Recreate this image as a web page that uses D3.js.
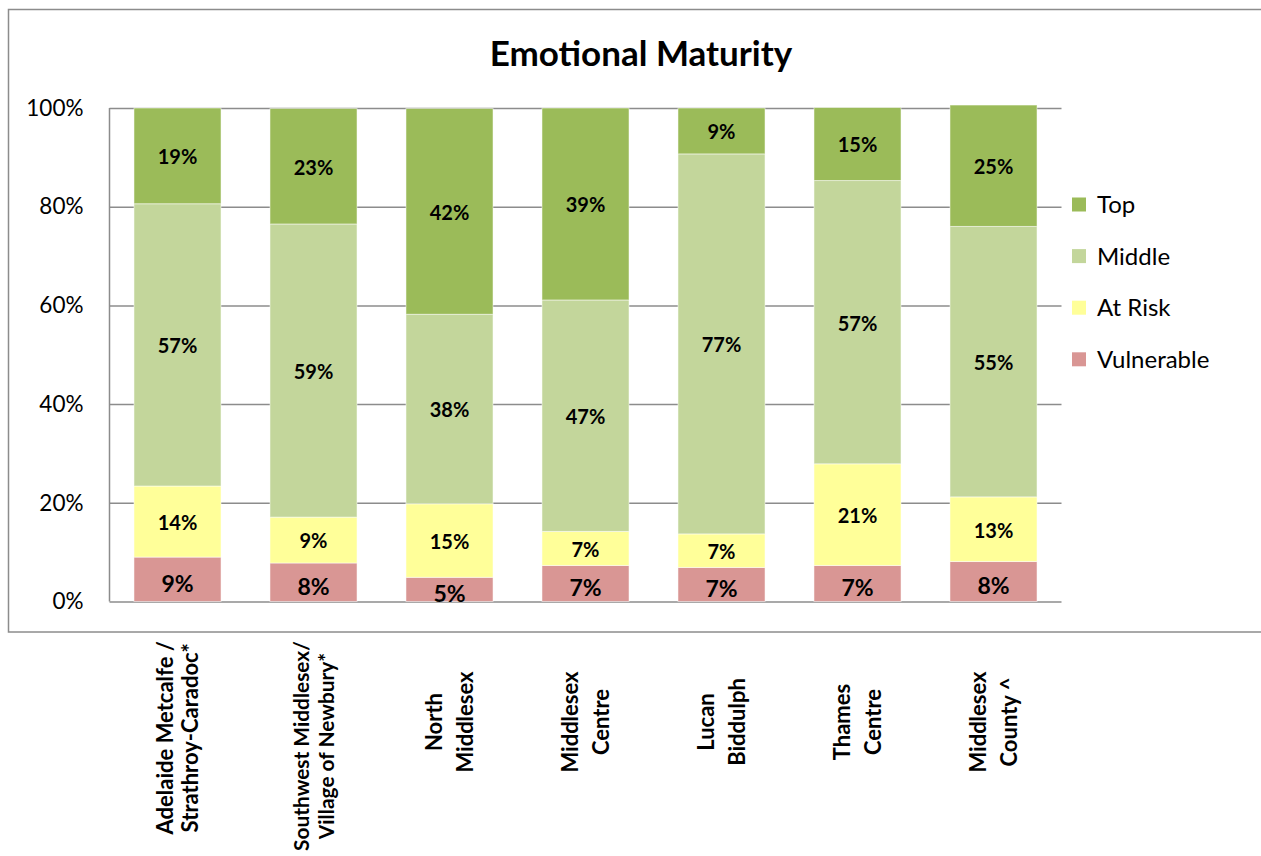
<!DOCTYPE html>
<html>
<head>
<meta charset="utf-8">
<script src="https://cdn.jsdelivr.net/npm/d3@7/dist/d3.min.js"></script>
<style>
  body { margin: 0; background: #fff; }
  svg { display: block; font-family: Lato, "Open Sans", sans-serif; }
</style>
</head>
<body>
<svg id="chart" width="1261" height="856"></svg>
<script>
// chart data (percent of children)
const categories = [
  "Adelaide Metcalfe /|Strathroy-Caradoc*",
  "Southwest Middlesex/|Village of Newbury*",
  "North|Middlesex",
  "Middlesex|Centre",
  "Lucan|Biddulph",
  "Thames|Centre",
  "Middlesex|County ^"
];
const seriesNames = ["Vulnerable", "At Risk", "Middle", "Top"];
const vulnerableVals = [9.0, 7.8, 4.9, 7.3, 6.9, 7.3, 8.1];
const atRiskVals     = [14.4, 9.3, 14.9, 6.9, 6.8, 20.6, 13.1];
const middleVals     = [57.2, 59.4, 38.4, 46.9, 77.0, 57.4, 54.8];
const topVals        = [19.4, 23.4, 41.7, 38.9, 9.3, 14.8, 24.6];
const yTicks = [0, 20, 40, 60, 80, 100];
const title = "Emotional Maturity";

const colors = {
  "Vulnerable": "#d99694",
  "At Risk": "#ffff99",
  "Middle": "#c3d69b",
  "Top": "#9bbb59"
};

// build rows for the stack
const seriesVals = [vulnerableVals, atRiskVals, middleVals, topVals];
const rows = categories.map((c, i) => {
  let r = { cat: c };
  seriesNames.forEach((s, j) => r[s] = seriesVals[j][i]);
  return r;
});

const svg = d3.select("#chart");
const plot = { left: 109.5, right: 1061.5, top: 108, bottom: 601.5 };

// outer chart frame (runs off the right edge like the original)
svg.append("rect")
  .attr("x", 8.5).attr("y", 9.5)
  .attr("width", 1300).attr("height", 622.5)
  .attr("fill", "none")
  .attr("stroke", "#8c8c8c")
  .attr("stroke-width", 1.5);

// title
svg.append("text")
  .attr("x", 641).attr("y", 66)
  .attr("text-anchor", "middle")
  .attr("font-weight", "bold")
  .attr("font-size", 35)
  .attr("fill", "#000")
  .text(title);

// scales
let x = d3.scaleBand()
  .domain(categories)
  .range([plot.left, plot.right])
  .paddingInner(0.36)
  .paddingOuter(0.18);

let y = d3.scaleLinear()
  .domain([0, 100])
  .range([plot.bottom, plot.top]);

// y axis with gridlines
let yAxis = d3.axisLeft(y)
  .tickValues(yTicks)
  .tickSize(-(plot.right - plot.left))
  .tickPadding(26)
  .tickFormat(d => d + "%");

let yg = svg.append("g")
  .attr("transform", `translate(${plot.left},0)`)
  .call(yAxis);
yg.select(".domain").remove();
yg.selectAll(".tick line")
  .attr("stroke", "#8c8c8c")
  .attr("stroke-width", 1.5);
yg.selectAll(".tick text")
  .attr("font-family", "Lato, 'Open Sans', sans-serif")
  .attr("font-size", 22.5)
  .attr("fill", "#000");

// left axis line
svg.append("line")
  .attr("x1", plot.left).attr("x2", plot.left)
  .attr("y1", y(100)).attr("y2", y(0))
  .attr("stroke", "#8c8c8c")
  .attr("stroke-width", 1.5);

// stacked bars
let stack = d3.stack().keys(seriesNames);
let layers = stack(rows);

let layerG = svg.selectAll(".layer")
  .data(layers)
  .enter().append("g")
    .attr("class", "layer")
    .attr("fill", d => colors[d.key]);

layerG.selectAll("rect")
  .data(d => d)
  .enter().append("rect")
    .attr("x", d => x(d.data.cat))
    .attr("y", d => y(d[1]))
    .attr("width", x.bandwidth())
    .attr("height", d => y(d[0]) - y(d[1]))
    .attr("stroke", "#ffffff")
    .attr("stroke-opacity", 0.5)
    .attr("stroke-width", 1);

// data labels, centred in each segment
let fmt = d3.format(".0f");
layerG.selectAll("text")
  .data(d => d.map(v => ({ v: v, key: d.key })))
  .enter().append("text")
    .attr("x", d => x(d.v.data.cat) + x.bandwidth() / 2)
    .attr("y", d => (y(d.v[0]) + y(d.v[1])) / 2)
    .attr("dy", d => d.key == "Vulnerable" ? "0.55em" : "0.42em")
    .attr("text-anchor", "middle")
    .attr("font-weight", "bold")
    .attr("font-size", d => d.key == "Vulnerable" ? 23 : 20)
    .attr("fill", "#000")
    .text(d => fmt(d.v.data[d.key]) + "%");

// legend
let legendOrder = seriesNames.slice().reverse();
let legend = svg.selectAll(".legend")
  .data(legendOrder)
  .enter().append("g")
    .attr("class", "legend")
    .attr("transform", (d, i) => `translate(1072,${204.5 + i * 51.6})`);

legend.append("rect")
  .attr("x", 0).attr("y", -7)
  .attr("width", 14).attr("height", 14)
  .attr("fill", d => colors[d]);

legend.append("text")
  .attr("x", 25).attr("dy", "0.36em")
  .attr("font-size", 24)
  .attr("fill", "#000")
  .text(d => d);

// category labels, rotated, two lines each
const labelSpace = 210; // room between the frame and the bottom edge
categories.forEach(c => {
  let lines = c.split("|");
  let g = svg.append("g");
  let texts = lines.map(t => g.append("text")
    .attr("x", 0)
    .attr("text-anchor", "middle")
    .attr("font-weight", "bold")
    .attr("font-size", 22)
    .attr("fill", "#000")
    .text(t));
  let len = d3.max(texts, t => t.node().getComputedTextLength());
  // shrink a label that would run off the bottom
  if (len > labelSpace) {
    let fs = 22 * labelSpace / len;
    texts.forEach(t => t.attr("font-size", fs));
    len = labelSpace;
  }
  // long labels sit tighter, like the original
  let lineGap = len > 150 ? 25 : 31;
  texts.forEach((t, i) => t.attr("y", (i - (lines.length - 1) / 2) * lineGap + 8));
  let cy = Math.min(747, Math.max(722, 641 + len / 2));
  g.attr("transform", `translate(${x(c) + x.bandwidth() / 2},${cy}) rotate(-90)`);
});
</script>
</body>
</html>
